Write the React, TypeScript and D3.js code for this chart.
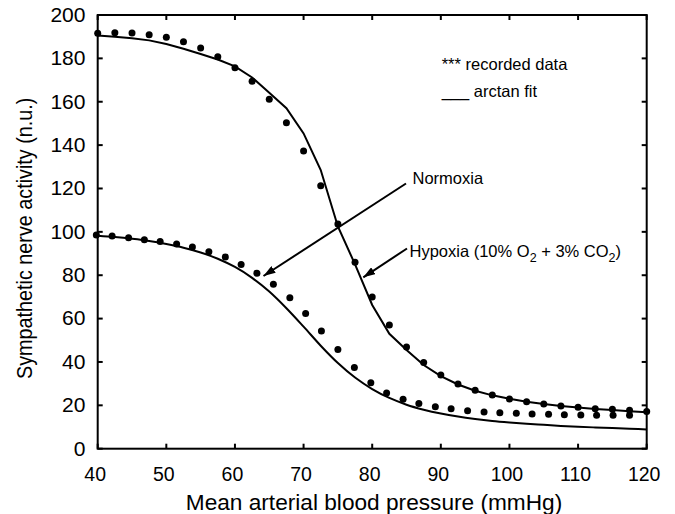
import * as d3 from 'd3';

// recorded data (dots)
const hypoxiaX = [40, 42.5, 45, 47.5, 50, 52.5, 55, 57.5, 60, 62.5, 65, 67.5, 70, 72.5, 75, 77.5, 80, 82.5, 85, 87.5, 90, 92.5, 95, 97.5, 100, 102.5, 105, 107.5, 110, 112.5, 115, 117.5, 120];
const hypoxiaY = [191.6, 191.8, 191.7, 190.9, 189.7, 187.7, 184.8, 180.8, 175.7, 169.4, 161.1, 150.3, 137.3, 121.3, 103.6, 86.0, 70.0, 57.0, 46.9, 39.7, 34.0, 29.8, 26.9, 24.8, 22.9, 21.7, 20.6, 19.7, 19.1, 18.4, 18.2, 17.7, 17.1];

const normoxiaX = [39.8, 42.1, 44.5, 46.8, 49.1, 51.5, 53.8, 56.2, 58.6, 60.9, 63.2, 65.6, 68.0, 70.3, 72.6, 75.0, 77.4, 79.8, 82.1, 84.5, 86.8, 89.2, 91.5, 93.9, 96.3, 98.6, 101.0, 103.3, 105.7, 108.0, 110.4, 112.7, 115.1, 117.5];
const normoxiaY = [98.6, 98.1, 97.3, 96.4, 95.5, 94.4, 93.0, 90.8, 88.4, 85.0, 80.9, 75.8, 69.6, 62.4, 54.3, 45.7, 37.5, 30.4, 25.7, 22.8, 20.8, 19.4, 18.4, 17.5, 16.9, 16.6, 16.3, 16.0, 15.9, 15.7, 15.5, 15.4, 15.4, 15.4];

// arctan fit (lines)
const fitX = [40, 42.5, 45, 47.5, 50, 52.5, 55, 57.5, 60, 62.5, 65, 67.5, 70, 72.5, 75, 77.5, 80, 82.5, 85, 87.5, 90, 92.5, 95, 97.5, 100, 102.5, 105, 107.5, 110, 112.5, 115, 117.5, 120];
const hypoxiaFit = [190.5, 190, 189.3, 188.3, 186.6, 184.4, 182, 179.5, 176.3, 171.2, 164.2, 157, 145.4, 128.5, 102.5, 85, 66.3, 53, 45.5, 38.6, 33.5, 29.6, 26.7, 24.6, 23, 21.7, 20.6, 19.7, 19, 18.3, 17.8, 17.3, 16.8];
const normoxiaFit = [98.2, 97.6, 96.8, 95.8, 94.4, 92.7, 90.5, 87.6, 83.8, 78.8, 72.5, 64.8, 56.3, 47.5, 39.5, 32.8, 27.5, 23.4, 20.3, 18, 16.2, 14.8, 13.7, 12.8, 12.1, 11.5, 11, 10.5, 10.1, 9.8, 9.5, 9.2, 8.9];

const xTicks = [40, 50, 60, 70, 80, 90, 100, 110, 120];
const yTicks = [0, 20, 40, 60, 80, 100, 120, 140, 160, 180, 200];

const W = 675;
const H = 514;
const FONT = '"Liberation Sans", Arial, Helvetica, sans-serif';

export default function App() {
  const x = d3.scaleLinear().domain([40, 120]).range([97.7, 646.7]);
  const y = d3.scaleLinear().domain([0, 200]).range([448.7, 15]);

  const hypLine = d3.line<number>()
    .x((_, i) => x(fitX[i]))
    .y(d => y(d));
  const normLine = d3.line<number>()
    .x((_, i) => x(fitX[i]))
    .y(d => y(d))
    .curve(d3.curveMonotoneX);

  const [x0, x1] = x.range();
  const [y0, y1] = y.range();
  const tick = 5;

  return (
    <svg width={W} height={H} style={{ position: 'absolute', left: 0, top: 0, background: '#fff' }} fontFamily={FONT}>
      <defs>
        <marker id="arrow" viewBox="0 0 12 8" refX="12" refY="4" markerWidth="12" markerHeight="8" markerUnits="userSpaceOnUse" orient="auto">
          <path d="M0,0 L12,4 L0,8 Z" fill="#000" />
        </marker>
      </defs>

      {/* fits */}
      <path d={hypLine(hypoxiaFit) ?? ''} fill="none" stroke="#000" strokeWidth={2} />
      <path d={normLine(normoxiaFit) ?? ''} fill="none" stroke="#000" strokeWidth={2} />

      {/* dots */}
      {hypoxiaY.map((v, i) => (
        <circle key={'h' + i} cx={x(hypoxiaX[i])} cy={y(v)} r={3.5} fill="#000" />
      ))}
      {normoxiaY.map((v, i) => (
        <circle key={'n' + i} cx={x(normoxiaX[i])} cy={y(v)} r={3.5} fill="#000" />
      ))}

      {/* frame */}
      <rect x={x0} y={y1} width={x1 - x0} height={y0 - y1} fill="none" stroke="#000" strokeWidth={2} />

      {/* x ticks */}
      {xTicks.map(t => (
        <g key={'xt' + t}>
          <line x1={x(t)} x2={x(t)} y1={y0} y2={y0 - tick} stroke="#000" strokeWidth={2} />
          <line x1={x(t)} x2={x(t)} y1={y1} y2={y1 + tick} stroke="#000" strokeWidth={2} />
          <text x={x(t) - 2.5} y={481} textAnchor="middle" fontSize={19.5}>{t}</text>
        </g>
      ))}
      {/* y ticks */}
      {yTicks.map(t => (
        <g key={'yt' + t}>
          <line x1={x0} x2={x0 + tick} y1={y(t)} y2={y(t)} stroke="#000" strokeWidth={2} />
          <line x1={x1} x2={x1 - tick} y1={y(t)} y2={y(t)} stroke="#000" strokeWidth={2} />
          <text transform={`translate(85.5,${y(t) + 6.8}) scale(1.08,1)`} textAnchor="end" fontSize={19.5}>{t}</text>
        </g>
      ))}

      {/* axis titles */}
      <text transform="translate(374,509.5) scale(1.03,1)" textAnchor="middle" fontSize={22}>Mean arterial blood pressure (mmHg)</text>
      <text transform="translate(31.5,238.3) rotate(-90) scale(0.9,1)" textAnchor="middle" fontSize={22}>Sympathetic nerve activity (n.u.)</text>

      {/* legend */}
      <text x={441.7} y={70} fontSize={16.5}>*** recorded data</text>
      <text x={441.7} y={97} fontSize={16.5}>___ arctan fit</text>

      {/* annotations */}
      <line x1={406} x2={263.5} y1={183.5} y2={276} stroke="#000" strokeWidth={2} markerEnd="url(#arrow)" />
      <text x={412.5} y={183.5} fontSize={16.5}>Normoxia</text>

      <line x1={407} x2={363.3} y1={248.5} y2={277.3} stroke="#000" strokeWidth={2} markerEnd="url(#arrow)" />
      <text x={409.5} y={256.5} fontSize={16.5}>
        Hypoxia (10% O<tspan fontSize={12.5} dy={5}>2</tspan>
        <tspan dy={-5}> + 3% CO</tspan>
        <tspan fontSize={12.5} dy={5}>2</tspan>
        <tspan dy={-5}>)</tspan>
      </text>
    </svg>
  );
}
